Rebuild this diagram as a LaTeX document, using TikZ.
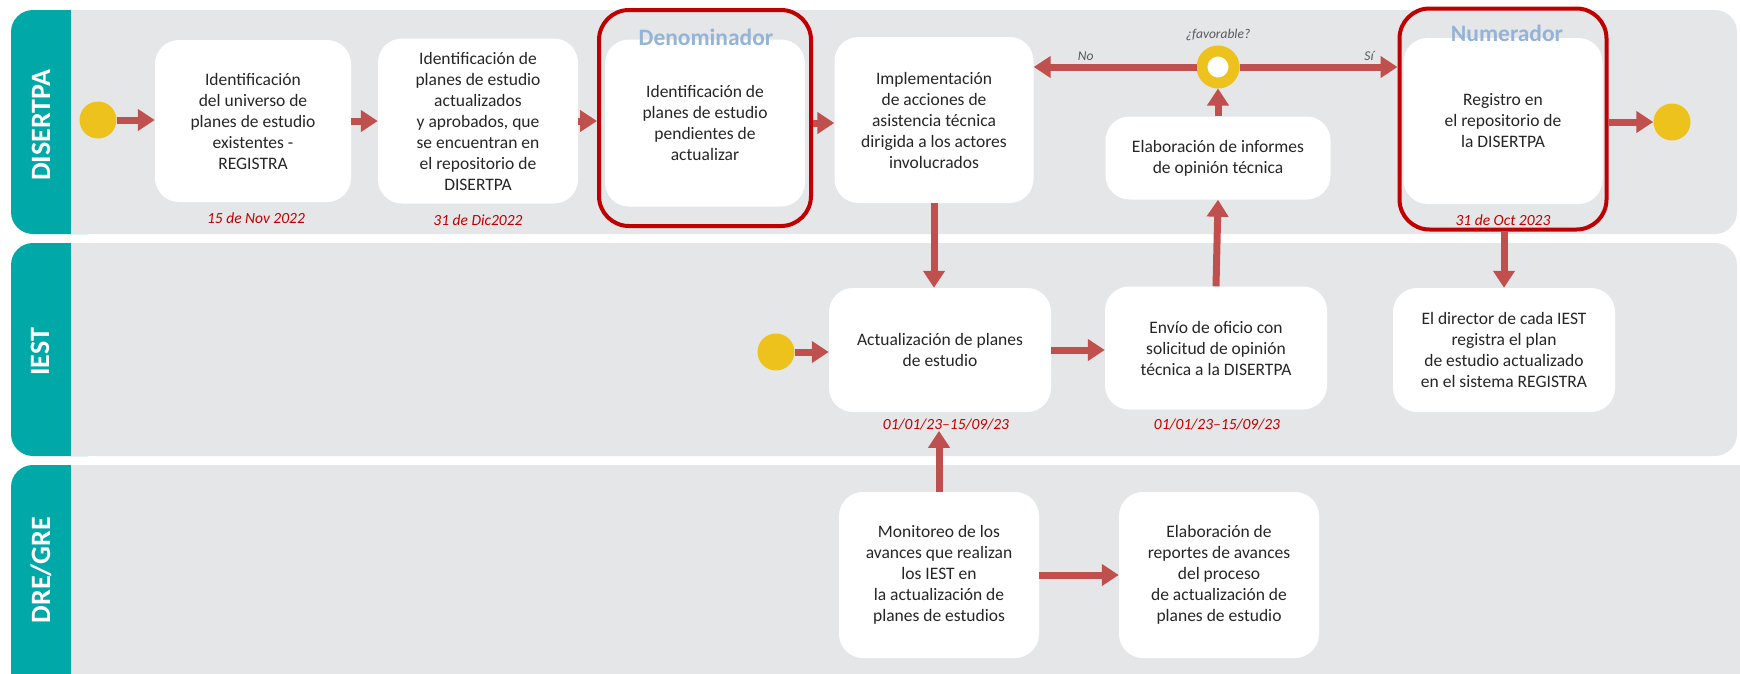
\documentclass[tikz,border=0pt]{standalone}
\usepackage{fontspec}
\setmainfont{Carlito}
\usetikzlibrary{arrows.meta}

\definecolor{lanegray}{RGB}{229,230,232}
\definecolor{laneteal}{RGB}{0,169,168}
\definecolor{flowred}{RGB}{192,80,77}
\definecolor{dotyellow}{RGB}{238,194,28}
\definecolor{markred}{RGB}{192,0,0}
\definecolor{headblue}{RGB}{149,179,215}
\definecolor{boxtext}{RGB}{38,38,38}

\begin{document}
\begin{tikzpicture}[x=1pt, y=-1pt,
	every node/.style={inner sep=0pt, align=center, text=boxtext, font=\fontsize{17.5}{21}\selectfont},
	stepbox/.style={fill=white, rounded corners=24pt},
	redframe/.style={draw=markred, line width=4pt, rounded corners=30pt},
	datetxt/.style={text=markred, font=\fontsize{15.5}{18}\selectfont\itshape},
	lanelabel/.style={text=white, rotate=90, font=\fontsize{28}{30}\selectfont\bfseries},
	headlabel/.style={text=headblue, font=\fontsize{23.5}{26}\selectfont\bfseries},
	edgetag/.style={text=black!65, font=\fontsize{13.5}{15}\selectfont\itshape},
	dotnode/.style={circle, fill=dotyellow, minimum size=37pt},
	flowarrow/.style={draw=flowred, line width=7pt, -{Triangle[length=17pt,width=21pt]}}]
	
	\useasboundingbox (0,0) rectangle (1740,673);
	\clip (0,0) rectangle (1740,673);
	
	% lanes
	\foreach \ya/\yb/\xr in {10/234/1737, 243/456/1737, 465/700/1770} {
		\fill[laneteal, rounded corners=22pt] (11,\ya) rectangle (110,\yb);
		\fill[lanegray, rounded corners=22pt] (71,\ya) -- (\xr,\ya) -- (\xr,\yb) -- (71,\yb) [sharp corners] -- cycle;
		\fill[lanegray] (71,\ya) rectangle (100,\yb);
	}
	\node[lanelabel] (l1) at (41,125) {DISERTPA};
	\node[lanelabel] (l2) at (40,352) {IEST};
	\node[lanelabel] (l3) at (41,570) {DRE/GRE};
	
	% DISERTPA
	\node[dotnode] (1) at (98,120) {};
	\node[stepbox, minimum width=196pt, minimum height=162pt] (2) at (253,121) {Identificación\\del universo de\\planes de estudio\\existentes -\\REGISTRA};
	\node[stepbox, minimum width=200pt, minimum height=165pt] (3) at (478,121) {Identificación de\\planes de estudio\\actualizados\\y aprobados, que\\se encuentran en\\el repositorio de\\DISERTPA};
	\node[redframe, minimum width=212pt, minimum height=216pt] (4) at (705,118) {};
	\node[stepbox, minimum width=200pt, minimum height=167pt] (5) at (705,123) {Identificación de\\planes de estudio\\pendientes de\\actualizar};
	\node[headlabel] (6) at (706,37) {Denominador};
	\node[stepbox, minimum width=199pt, minimum height=166pt] (7) at (934,120) {Implementación\\de acciones de\\asistencia técnica\\dirigida a los actores\\involucrados};
	\node[circle, draw=dotyellow, line width=11pt, fill=white, minimum size=32pt, outer sep=5.5pt] (8) at (1218,67) {};
	\node[edgetag, above=5pt] (9) at (8.north) {¿favorable?};
	\node[stepbox, minimum width=225pt, minimum height=83pt] (10) at (1218,158) {Elaboración de informes\\de opinión técnica};
	\node[redframe, minimum width=207pt, minimum height=221pt] (11) at (1503,119) {};
	\node[stepbox, minimum width=199pt, minimum height=166pt] (12) at (1503,121) {Registro en\\el repositorio de\\la DISERTPA};
	\node[headlabel] (13) at (1507,33) {Numerador};
	\node[dotnode] (14) at (1672,122) {};
	\node[datetxt] (15) at (256,218) {15 de Nov 2022};
	\node[datetxt] (16) at (478,220) {31 de Dic2022};
	\node[datetxt] (17) at (1503,220) {31 de Oct 2023};
	
	% IEST
	\node[dotnode] (18) at (776,352) {};
	\node[stepbox, minimum width=222pt, minimum height=124pt] (19) at (940,350) {Actualización de planes\\de estudio};
	\node[stepbox, minimum width=222pt, minimum height=123pt] (20) at (1216,348) {Envío de oficio con\\solicitud de opinión\\técnica a la DISERTPA};
	\node[stepbox, minimum width=222pt, minimum height=124pt] (21) at (1504,350) {El director de cada IEST\\registra el plan\\de estudio actualizado\\en el sistema REGISTRA};
	\node[datetxt] (22) at (946,425) {01/01/23--15/09/23};
	\node[datetxt] (23) at (1217,425) {01/01/23--15/09/23};
	
	% DRE/GRE
	\node[stepbox, minimum width=200pt, minimum height=166pt] (24) at (939,575) {Monitoreo de los\\avances que realizan\\los IEST en\\la actualización de\\planes de estudios};
	\node[stepbox, minimum width=200pt, minimum height=166pt] (25) at (1219,575) {Elaboración de\\reportes de avances\\del proceso\\de actualización de\\planes de estudio};
	
	\path (1) edge[flowarrow] (1 -| 2.west);
	\path (2.east) edge[flowarrow] (2.east -| 3.west);
	\path (3.east) edge[flowarrow] (3.east -| 4.west);
	\path (5.east -| 4.east) edge[flowarrow] (5.east -| 7.west);
	\path (8) edge[flowarrow] node[edgetag, above=3pt, pos=0.68] {No} (8 -| 7.east);
	\path (8) edge[flowarrow] node[edgetag, above=3pt, pos=0.82] {Sí} (8 -| 11.west);
	\path (10.north) edge[flowarrow] (8.south);
	\path (11.east |- 14) edge[flowarrow] (14.west);
	\path (7.south) edge[flowarrow] (7.south |- 19.north);
	\path (11.south -| 21.north) edge[flowarrow] (21.north);
	\path (18) edge[flowarrow] (18 -| 19.west);
	\path (19.east) edge[flowarrow] (19.east -| 20.west);
	\path (20.north) edge[flowarrow] (10.south);
	\path (24.north) edge[flowarrow] (24.north |- 22.south);
	\path (24.east) edge[flowarrow] (24.east -| 25.west);
	
\end{tikzpicture}
\end{document}
